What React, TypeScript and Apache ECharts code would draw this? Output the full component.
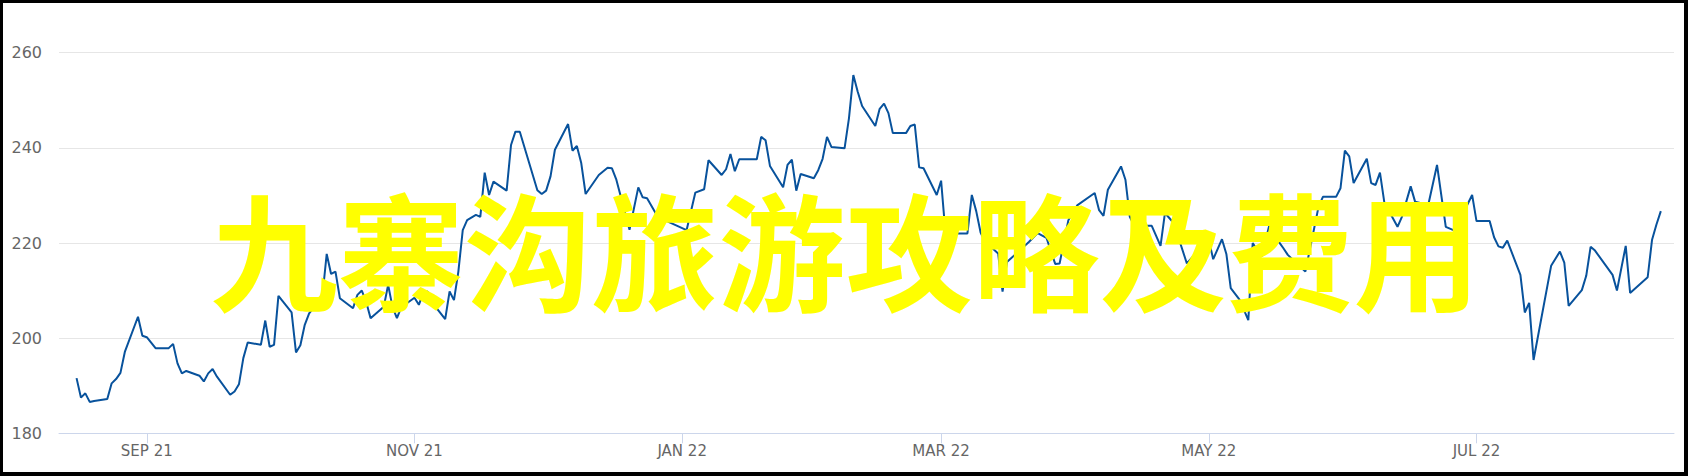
import React, { useEffect, useRef } from "react";
import * as echarts from "echarts";

const dates = [
  "2021-08-16","2021-08-17","2021-08-18","2021-08-19","2021-08-20","2021-08-23","2021-08-24","2021-08-25","2021-08-26","2021-08-27",
  "2021-08-30","2021-08-31","2021-09-01","2021-09-03","2021-09-06","2021-09-07","2021-09-08","2021-09-09","2021-09-10","2021-09-13",
  "2021-09-14","2021-09-15","2021-09-16","2021-09-17","2021-09-20","2021-09-21","2021-09-22","2021-09-23","2021-09-24","2021-09-27",
  "2021-09-28","2021-09-29","2021-09-30","2021-10-01","2021-10-04","2021-10-05","2021-10-06","2021-10-07","2021-10-08","2021-10-11",
  "2021-10-12","2021-10-13","2021-10-14","2021-10-15","2021-10-18","2021-10-19","2021-10-20","2021-10-21","2021-10-22","2021-10-25",
  "2021-10-26","2021-10-27","2021-10-28","2021-10-29","2021-11-01","2021-11-02","2021-11-03","2021-11-04","2021-11-05","2021-11-08",
  "2021-11-09","2021-11-10","2021-11-11","2021-11-12","2021-11-13","2021-11-15","2021-11-16","2021-11-17","2021-11-18","2021-11-19",
  "2021-11-22","2021-11-23","2021-11-24","2021-11-25","2021-11-29","2021-11-30","2021-12-01","2021-12-02","2021-12-03","2021-12-06",
  "2021-12-07","2021-12-08","2021-12-09","2021-12-10","2021-12-13","2021-12-15","2021-12-16","2021-12-17","2021-12-20","2021-12-22",
  "2021-12-23","2021-12-24","2021-12-26","2021-12-29","2022-01-02","2022-01-04","2022-01-06","2022-01-07","2022-01-10","2022-01-11",
  "2022-01-12","2022-01-13","2022-01-14","2022-01-18","2022-01-19","2022-01-20","2022-01-21","2022-01-24","2022-01-25","2022-01-26",
  "2022-01-27","2022-01-28","2022-01-31","2022-02-01","2022-02-02","2022-02-03","2022-02-04","2022-02-07","2022-02-08","2022-02-09",
  "2022-02-10","2022-02-11","2022-02-14","2022-02-15","2022-02-16","2022-02-17","2022-02-18","2022-02-21","2022-02-22","2022-02-23",
  "2022-02-24","2022-02-25","2022-02-28","2022-03-01","2022-03-02","2022-03-07","2022-03-08","2022-03-09","2022-03-10","2022-03-11",
  "2022-03-14","2022-03-15","2022-03-16","2022-03-19","2022-03-21","2022-03-23","2022-03-25","2022-03-27","2022-03-28","2022-03-30",
  "2022-04-01","2022-04-05","2022-04-06","2022-04-07","2022-04-08","2022-04-11","2022-04-12","2022-04-13","2022-04-14","2022-04-18",
  "2022-04-20","2022-04-21","2022-04-23","2022-04-26","2022-04-28","2022-04-29","2022-05-01","2022-05-02","2022-05-04","2022-05-05",
  "2022-05-06","2022-05-08","2022-05-10","2022-05-11","2022-05-13","2022-05-15","2022-05-17","2022-05-18","2022-05-19","2022-05-23",
  "2022-05-26","2022-05-27","2022-05-30","2022-05-31","2022-06-01","2022-06-02","2022-06-03","2022-06-06","2022-06-07","2022-06-08",
  "2022-06-09","2022-06-10","2022-06-13","2022-06-14","2022-06-16","2022-06-17","2022-06-20","2022-06-22","2022-06-24","2022-06-26",
  "2022-06-30","2022-07-01","2022-07-04","2022-07-05","2022-07-06","2022-07-07","2022-07-08","2022-07-11","2022-07-12","2022-07-13",
  "2022-07-14","2022-07-18","2022-07-20","2022-07-21","2022-07-22","2022-07-25","2022-07-26","2022-07-27","2022-07-28","2022-08-01",
  "2022-08-02","2022-08-04","2022-08-05","2022-08-09","2022-08-10","2022-08-11","2022-08-12"
];

const prices = [
  191.6,187.5,188.4,186.6,186.8,187.2,190.5,191.4,192.7,197.1,
  204.5,200.5,200.2,197.9,197.9,198.8,194.7,192.6,193.1,192.1,
  190.9,192.6,193.5,191.9,188.1,188.8,190.3,195.8,199.1,198.6,
  203.7,198.2,198.6,208.9,205.4,197.0,198.5,202.8,205.2,208.7,
  217.7,213.5,214.0,208.4,206.3,209.1,210.0,207.6,204.2,206.6,
  211.2,206.5,204.2,206.5,208.5,207.0,209.5,209.8,207.5,204.0,
  209.8,208.0,214.0,222.7,224.8,225.9,225.5,234.8,230.1,232.9,
  231.0,240.6,243.4,243.4,231.1,230.3,231.0,234.0,239.6,245.0,
  239.4,240.4,236.8,230.3,234.3,235.8,235.7,233.3,222.8,231.7,
  229.6,229.4,226.2,224.4,222.7,230.6,231.3,237.4,234.3,235.5,
  238.7,235.1,237.6,237.6,242.3,241.6,236.2,231.7,236.4,237.5,
  231.0,234.5,233.6,235.3,237.7,242.3,240.2,239.9,246.2,255.3,
  251.8,248.8,244.6,248.2,249.3,247.3,243.1,243.1,244.6,244.9,
  235.9,235.7,230.1,233.1,222.0,222.0,230.1,226.7,222.2,220.3,
  217.8,209.8,216.0,218.5,220.2,222.1,221.1,215.6,215.7,224.8,
  227.9,230.5,226.9,225.7,231.2,236.1,233.3,225.5,223.6,223.6,
  219.4,226.3,224.2,215.7,217.8,219.4,220.6,216.6,220.8,217.7,
  210.5,208.1,203.8,220.0,217.1,224.5,220.2,218.9,217.5,214.0,
  227.6,229.7,229.7,231.5,239.4,238.2,232.6,237.7,232.6,232.2,
  234.8,228.5,223.4,225.5,231.9,228.7,228.0,236.4,223.4,222.6,
  230.1,224.6,224.6,221.2,219.3,219.0,220.5,213.3,205.4,207.4,
  195.4,215.2,218.2,215.9,206.8,210.1,213.1,219.2,218.4,213.3,
  210.0,219.4,209.5,212.8,220.7,223.9,226.7
];

const tickDates = ["2021-09-01", "2021-11-01", "2022-01-01", "2022-03-01", "2022-05-01", "2022-07-01"];
const monthNames = ["JAN", "FEB", "MAR", "APR", "MAY", "JUN", "JUL", "AUG", "SEP", "OCT", "NOV", "DEC"];
const axisStart = "2021-08-12";
const axisEnd = "2022-08-15";
const yTicks = [180, 200, 220, 240, 260];
const overlayTitle = "九寨沟旅游攻略及费用";

function toTs(s: string): number {
  const [y, m, d] = s.split("-").map(Number);
  return new Date(y, m - 1, d).getTime();
}

export default function App() {
  const ref = useRef<HTMLDivElement>(null);

  useEffect(() => {
    if (!ref.current) return;
    const chart = echarts.init(ref.current, undefined, { renderer: "svg" });
    const tickTs = tickDates.map(toTs);
    const labelFont = '"DejaVu Sans", Verdana, sans-serif';
    chart.setOption({
      animation: false,
      backgroundColor: "#ffffff",
      grid: { left: 59, right: 14, top: 52.7, bottom: 42.7, containLabel: false },
      xAxis: {
        type: "value",
        min: toTs(axisStart),
        max: toTs(axisEnd),
        axisLine: { show: true, lineStyle: { color: "#ccd6eb", width: 1 } },
        axisTick: { show: true, length: 10, lineStyle: { color: "#ccd6eb" }, customValues: tickTs },
        axisLabel: {
          customValues: tickTs,
          color: "#666666",
          fontSize: 15,
          fontFamily: labelFont,
          margin: 10,
          formatter: (v: number) => {
            const d = new Date(v);
            return monthNames[d.getMonth()] + " " + String(d.getFullYear()).slice(2);
          },
        },
        splitLine: { show: false },
      },
      yAxis: {
        type: "value",
        min: yTicks[0],
        max: yTicks[yTicks.length - 1],
        interval: 20,
        axisLine: { show: false },
        axisTick: { show: false },
        axisLabel: { color: "#666666", fontSize: 16, fontFamily: labelFont, margin: 17 },
        splitLine: { show: true, lineStyle: { color: "#e6e6e6", width: 1 } },
      },
      series: [
        {
          type: "line",
          data: dates.map((d, i) => [toTs(d), prices[i]]),
          showSymbol: false,
          symbol: "none",
          lineStyle: { color: "#08529c", width: 2 },
          z: 2,
        },
      ],
      graphic: [
        {
          type: "text",
          x: 845.5,
          y: 246.5,
          z: 100,
          style: {
            text: overlayTitle,
            fill: "#ffff00",
            fontSize: 127,
            fontWeight: "bold",
            fontFamily: '"Noto Sans CJK SC", sans-serif',
            align: "center",
            verticalAlign: "middle",
            textAlign: "center",
            textVerticalAlign: "middle",
          },
        },
        {
          type: "rect",
          z: 101,
          shape: { x: 1, y: 1, width: 1685, height: 473 },
          style: { fill: "none", stroke: "#000000", lineWidth: 4 },
        },
      ],
    });
    return () => chart.dispose();
  }, []);

  return (
    <div
      ref={ref}
      style={{ position: "fixed", left: 0, top: 0, width: 1688, height: 476, background: "#fff" }}
    />
  );
}
